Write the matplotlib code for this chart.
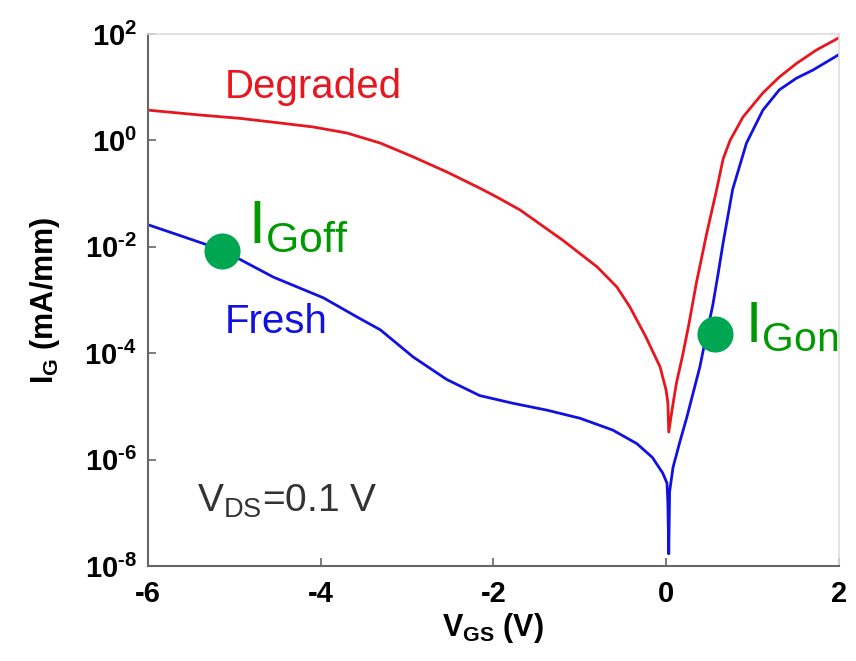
import matplotlib
matplotlib.use('Agg')
import matplotlib.pyplot as plt
from matplotlib.ticker import FixedLocator, NullLocator

plt.rcParams['font.family'] = ['Liberation Sans', 'DejaVu Sans']
plt.rcParams['mathtext.fontset'] = 'custom'
plt.rcParams['mathtext.rm'] = 'Liberation Sans'
plt.rcParams['mathtext.bf'] = 'Liberation Sans:bold'
plt.rcParams['mathtext.it'] = 'Liberation Sans:italic'
plt.rcParams['axes.unicode_minus'] = False

# gate leakage sweeps, V_DS = 0.1 V
vgs_degraded = [-6.00, -5.40, -4.94, -4.47, -4.09, -3.70, -3.31, -2.93, -2.54, -2.16,
                -1.96, -1.69, -1.20, -0.80, -0.57, -0.42, -0.24, -0.07, 0.00, 0.02,
                0.03, 0.07, 0.12, 0.19, 0.26, 0.35, 0.47, 0.58, 0.66, 0.74,
                0.89, 1.12, 1.31, 1.51, 1.74, 1.99]
ig_degraded = [3.7, 3.0, 2.6, 2.12, 1.79, 1.38, 0.89, 0.49, 0.255, 0.127,
               0.086, 0.049, 0.0134, 4.2e-3, 1.75e-3, 7.4e-4, 2.1e-4, 5.5e-5, 2.0e-5, 1.15e-5,
               3.3e-6, 9.0e-6, 2.8e-5, 9.0e-5, 3.3e-4, 2.1e-3, 0.018, 0.11, 0.45, 1.0,
               2.75, 7.8, 15.5, 28, 50, 83]

vgs_fresh = [-6.00, -5.71, -5.14, -4.55, -3.97, -3.58, -3.31, -2.93, -2.54, -2.16,
             -1.78, -1.38, -1.00, -0.62, -0.34, -0.16, -0.04, 0.01,
             0.02, 0.03, 0.04, 0.08, 0.16, 0.24, 0.32, 0.39, 0.46, 0.54,
             0.60, 0.66, 0.77, 0.93, 1.12, 1.31, 1.51, 1.70, 1.99]
ig_fresh = [0.026, 0.018, 8.7e-3, 2.7e-3, 1.1e-3, 4.8e-4, 2.75e-4, 8.5e-5, 3.2e-5, 1.6e-5,
            1.15e-5, 8.5e-6, 6.0e-6, 3.6e-6, 2.0e-6, 1.1e-6, 5.6e-7, 3.6e-7,
            1.5e-7, 1.7e-8, 2.5e-7, 7.2e-7, 2.2e-6, 6.3e-6, 2.0e-5, 5.5e-5, 2.0e-4, 8.0e-4,
            3.0e-3, 0.012, 0.12, 0.89, 3.7, 8.9, 14.8, 21, 40]

# marked operating points
goff_point = (-5.14, 8.3e-3)
gon_point = (0.56, 2.3e-4)

x_ticks = [-6, -4, -2, 0, 2]
y_exps = [-8, -6, -4, -2, 0, 2]

fig = plt.figure(figsize=(8.56, 6.61), dpi=100)
ax = fig.add_axes([0.1729, 0.1437, 0.8071, 0.8049])

ax.plot(vgs_degraded, ig_degraded, color='#e8161e', lw=2.0)
ax.plot(vgs_fresh, ig_fresh, color='#1212e0', lw=2.0)

green_dot = '#00a651'
green_txt = '#009a00'
ax.plot(*goff_point, 'o', ms=26, color=green_dot, mec='none', zorder=5)
ax.plot(*gon_point, 'o', ms=26, color=green_dot, mec='none', zorder=5)

ax.set_yscale('log')
ax.set_xlim(-6, 2)
ax.set_ylim(1e-8, 1e2)

ax.xaxis.set_major_locator(FixedLocator(x_ticks))
ax.set_xticklabels([str(v) for v in x_ticks])
ax.yaxis.set_major_locator(FixedLocator([10.0 ** e for e in y_exps]))
ax.yaxis.set_minor_locator(NullLocator())
ax.set_yticklabels([r'$\mathbf{10^{%s}}$' % str(e).replace('-', '\u2010') for e in y_exps])

for lbl in ax.get_xticklabels() + ax.get_yticklabels():
    lbl.set_fontweight('bold')
ax.tick_params(axis='both', direction='in', length=6, width=1.2, color='#666666',
               labelsize=21, labelcolor='black', pad=8)
ax.tick_params(axis='x', pad=10)

for side in ['left', 'bottom']:
    ax.spines[side].set_color('#666666')
    ax.spines[side].set_linewidth(1.5)
for side in ['top', 'right']:
    ax.spines[side].set_color('#dddddd')
    ax.spines[side].set_linewidth(1.2)

ax.set_xlabel(r'$\mathbf{V_{GS}}$ (V)', fontsize=22, fontweight='bold', labelpad=2)
ax.set_ylabel(r'$\mathbf{I_{G}}$ (mA/mm)', fontsize=22, fontweight='bold', labelpad=16)

ax.text(-5.11, 6.3, 'Degraded', color='#e8161e', fontsize=29, va='baseline')
ax.text(-5.11, 2.4e-4, 'Fresh', color='#1212e0', fontsize=29, va='baseline')
ax.text(-5.43, 1.05e-7, r'$\mathregular{V_{DS}}$=0.1 V', color='#333333', fontsize=28,
        va='baseline')
ax.text(-4.84, 0.0123, r'$\mathregular{I_{Goff}}$', color=green_txt, fontsize=44,
        va='baseline')
ax.text(0.91, 1.6e-4, r'$\mathregular{I_{Gon}}$', color=green_txt, fontsize=42,
        va='baseline')

fig.savefig('out.png', dpi=100)
